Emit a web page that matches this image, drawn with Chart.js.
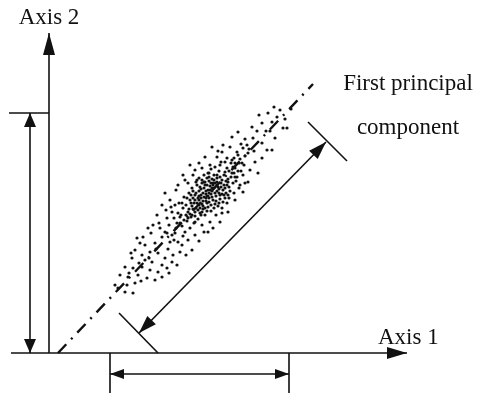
<!DOCTYPE html>
<html>
<head>
<meta charset="utf-8">
<script src="https://cdn.jsdelivr.net/npm/chart.js@4/dist/chart.umd.min.js"></script>
<style>
  html, body { margin: 0; padding: 0; background: #fff; }
  canvas { display: block; }
</style>
</head>
<body>
<canvas id="pca" width="479" height="398"></canvas>
<script>
// Observations in the (Axis 1, Axis 2) plane
const cloudPoints = [
  [231,243],[219,240],[223,231],[234,225],[228,236],[213,230],
  [203,226],[189,221],[204,215],[226,215],[213,210],[198,208],[183,216],[223,203],[238,225],
  [163,206],[173,201],[181,206],[189,198],[199,200],[206,191],[213,195],[193,190],[183,193],
  [176,191],[168,196],[156,196],[161,188],[209,180],[184,186],
  [134,178],[146,183],[153,185],[141,188],[159,180],[168,178],[176,181],[186,176],[194,178],
  [199,171],[191,168],[179,171],[173,173],[164,170],[156,171],[148,173],[139,170],[129,168],
  [116,160],[121,153],[179,158],[186,153],[194,161],[178,150],
  [113,148],[123,141],[118,135],[131,136],[146,131],[153,128],[161,131],[159,121],[173,140],
  [179,141],[108,138],
  [99,125],[104,128],[111,125],[116,121],[126,120],[136,121],[146,118],[139,113],[129,111],
  [121,111],[113,116],[106,110],[94,116],[88,115],[96,108],[133,108],[143,103],
  [86,103],[93,98],[101,101],[109,100],[116,95],[124,98],[131,101],[123,91],[113,88],[103,91],
  [96,93],[83,95],[128,88],
  [76,86],[84,85],[93,86],[101,83],[109,81],[118,85],[89,78],[79,76],[98,75],[106,73],[71,78],
  [113,76],[86,70],[78,68],
  [69,65],[84,60],[76,61],[66,68],
  [208,222],[217,222],[196,214],[192,209],[174,208],[169,202],[150,190],[144,178],[136,173],
  [127,163],[122,146],[117,143],[126,148],[110,130],[102,120],[91,110],[82,100],[90,90],
  [100,95],[107,104],[119,104],[125,113],[134,117],[141,125],[152,138],[167,138],[171,131],
  [164,125],[155,121],[150,112],[137,98],[120,80],[92,72],[80,80],[201,183],[205,202],
  [218,203],[221,222],[236,234],[242,244],[210,238],[225,246],[185,160],[190,165],[196,170],
  // dense centre of the cloud
  [140,160],[143,165],[146,158],[148,168],[150,162],[152,155],[153,170],[155,165],[157,159],
  [158,150],[160,172],[161,163],[163,156],[164,168],[166,160],[167,152],[168,175],[169,166],
  [171,158],[172,170],[174,163],[175,178],[176,155],[178,168],[179,174],[181,162],[183,180],
  [184,170],[186,185],[188,176],[145,150],[147,145],[150,148],[151,140],[154,144],[156,138],
  [159,146],[162,142],[137,148],[139,141],[141,153],[135,156],[134,145],[132,138],[130,150],
  [142,136],[145,130],[149,134],[138,132],[128,130],[125,135],[127,125],[133,127],[120,128],
  [118,120],[123,118],[165,145],[170,150],[173,145],[177,160],[180,155],[190,190],[185,195],
  [192,182],[195,188],[178,185],[182,190],[170,182],[165,178],[160,180],[158,175],
  [144,162],[147,171],[151,166],[154,160],[156,168],[159,163],[162,159],[163,174],[166,170],
  [170,164],[173,159],[175,168],[177,172],[180,166],[182,176],[185,180],[187,172],[189,182],
  [176,165],[168,162],[160,155],[157,152],[153,149],[149,155],[146,153],[143,147],[140,144],
  [137,138],[135,133],[131,130],[129,140],[133,150],[138,155],[142,158],[150,175],[155,178],
  [162,184],[171,188],[180,182],[186,190],[191,194],[196,197],[200,204],[194,205],[188,201],
  [178,195],[172,191],[166,186],[160,176],[153,173],
  [148,150],[150,153],[152,158],[154,152],[155,156],[157,162],[159,157],[160,151],[161,167],
  [163,162],[164,153],[165,165],[167,157],[168,168],[170,160],[171,154],[172,166],[156,145],
  [158,142],[153,141],[149,143],[146,141],[144,144],[142,150],[144,155],[147,160],[150,157],
  [152,164],[155,171],[158,168],[162,170],[165,173],[168,171],[171,176],[141,139],[139,135],
  [143,138],[146,137],[151,145],[154,147],[157,155],[162,148],[166,149],[169,147],[174,151],
  [175,158],[160,160],[163,165]
];

// Coordinate axes (origin at their crossing)
const axis1 = [[-38, 0], [358, 0]];
const axis2 = [[0, 0], [0, 320]];

// First principal component direction
const principalLine = [[9, 0], [264, 269]];

// Spread along the principal component, with its end bars
const pcSpread = [[90, 20], [277, 211]];
const pcBarLow = [[70, 40], [109, 0]];
const pcBarHigh = [[259, 231], [298, 192]];

// Spread along Axis 2
const axis2Bar = [[-40, 240], [0, 240]];
const axis2Spread = [[-19, 0], [-19, 240]];

// Spread along Axis 1
const axis1BarLeft = [[61, 0], [61, -40]];
const axis1BarRight = [[240, 0], [240, -40]];
const axis1Spread = [[61, -21], [240, -21]];

const INK = '#111';

function toXY(pairs) { return pairs.map(p => ({ x: p[0], y: p[1] })); }

function segment(pairs, extra) {
  return Object.assign({
    data: toXY(pairs),
    showLine: true,
    borderColor: INK,
    borderWidth: 1.6,
    pointRadius: 0,
    fill: false
  }, extra || {});
}

// Arrowheads: [shaft start, tip, length px, half-width px]
const arrowHeads = [
  [axis1[0], axis1[1], 20, 6],
  [axis2[0], axis2[1], 22, 6],
  [axis2Spread[0], axis2Spread[1], 14, 6],
  [axis2Spread[1], axis2Spread[0], 14, 6],
  [axis1Spread[0], axis1Spread[1], 14, 5],
  [axis1Spread[1], axis1Spread[0], 14, 5],
  [pcSpread[0], pcSpread[1], 18, 6],
  [pcSpread[1], pcSpread[0], 18, 6]
];

// Text labels: text, anchor point, alignment
const labels = [
  ['Axis 2', [0, 329], 'center'],
  ['Axis 1', [329, 9], 'left'],
  ['First principal', [359, 263], 'center'],
  ['component', [359, 219], 'center']
];

const arrowPlugin = {
  id: 'arrowHeads',
  afterDatasetsDraw(chart) {
    const { ctx, scales: { x, y } } = chart;
    ctx.save();
    ctx.fillStyle = INK;
    arrowHeads.forEach(([from, to, len, half]) => {
      const x0 = x.getPixelForValue(from[0]), y0 = y.getPixelForValue(from[1]);
      const x1 = x.getPixelForValue(to[0]), y1 = y.getPixelForValue(to[1]);
      const d = Math.hypot(x1 - x0, y1 - y0);
      const ux = (x1 - x0) / d, uy = (y1 - y0) / d;
      const bx = x1 - ux * len, by = y1 - uy * len;
      ctx.beginPath();
      ctx.moveTo(x1, y1);
      ctx.lineTo(bx - uy * half, by + ux * half);
      ctx.lineTo(bx + uy * half, by - ux * half);
      ctx.closePath();
      ctx.fill();
    });
    ctx.restore();
  }
};

const labelPlugin = {
  id: 'diagramLabels',
  afterDraw(chart) {
    const { ctx, scales: { x, y } } = chart;
    ctx.save();
    ctx.fillStyle = INK;
    ctx.font = '23px "Liberation Serif", "DejaVu Serif", serif';
    ctx.textBaseline = 'alphabetic';
    labels.forEach(([text, pos, align]) => {
      ctx.textAlign = align;
      ctx.fillText(text, x.getPixelForValue(pos[0]), y.getPixelForValue(pos[1]));
    });
    ctx.restore();
  }
};

const whiteBackground = {
  id: 'whiteBackground',
  beforeDraw(chart) {
    const { ctx, width, height } = chart;
    ctx.save();
    ctx.fillStyle = '#fff';
    ctx.fillRect(0, 0, width, height);
    ctx.restore();
  }
};

new Chart(document.getElementById('pca'), {
  type: 'scatter',
  data: {
    datasets: [
      {
        data: toXY(cloudPoints),
        pointRadius: 1.6,
        pointBorderWidth: 0,
        pointBackgroundColor: INK,
        showLine: false
      },
      segment(principalLine, { borderDash: [12, 7, 2, 7], borderWidth: 2.4 }),
      segment(axis1),
      segment(axis2),
      segment(pcSpread),
      segment(pcBarLow),
      segment(pcBarHigh),
      segment(axis2Bar),
      segment(axis2Spread),
      segment(axis1BarLeft),
      segment(axis1BarRight),
      segment(axis1Spread)
    ]
  },
  options: {
    responsive: false,
    animation: false,
    events: [],
    layout: { padding: 0, autoPadding: false },
    plugins: { legend: { display: false }, tooltip: { enabled: false } },
    scales: {
      x: { type: 'linear', min: -49, max: 430, display: false },
      y: { type: 'linear', min: -45, max: 353, display: false }
    }
  },
  plugins: [whiteBackground, arrowPlugin, labelPlugin]
});
</script>
</body>
</html>
